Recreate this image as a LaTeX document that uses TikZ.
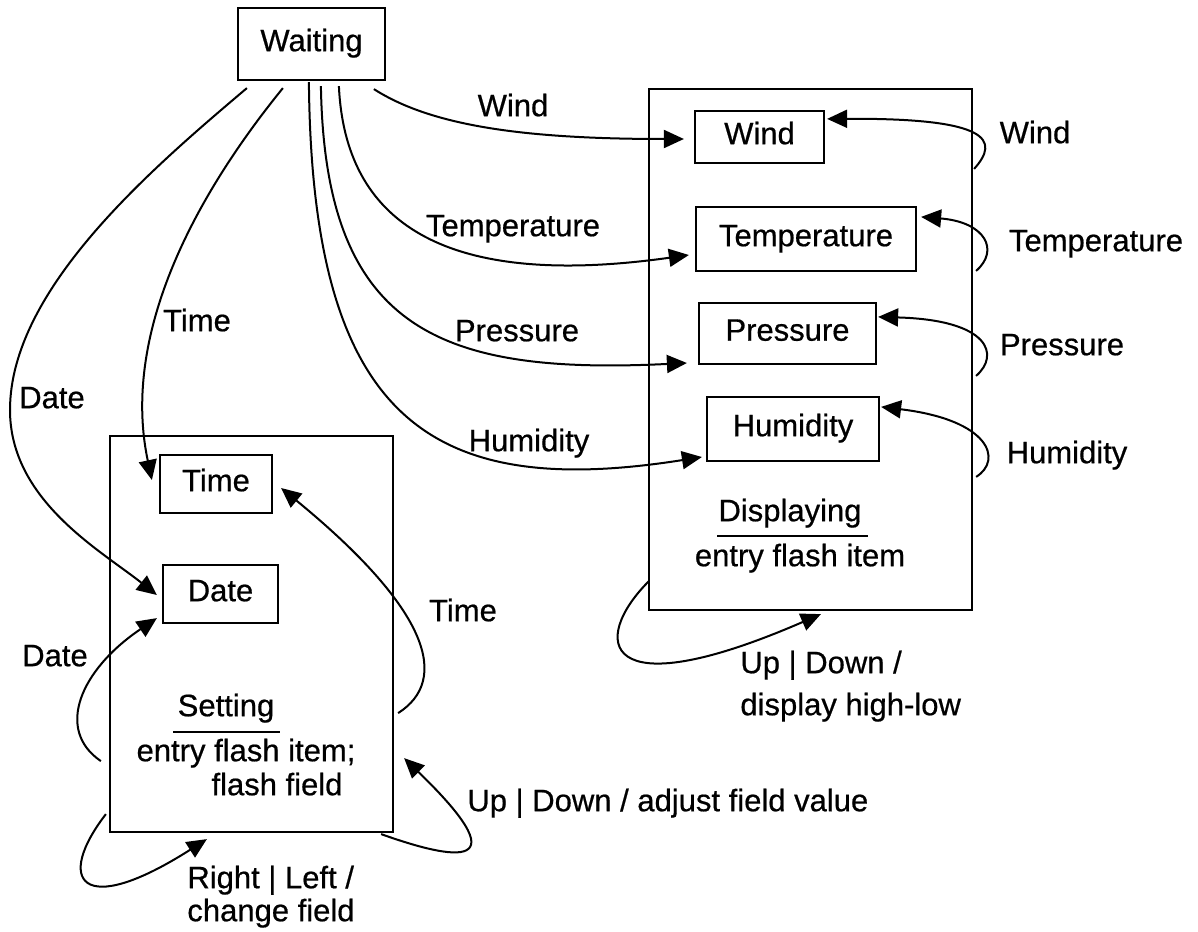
\documentclass[tikz,border=0pt]{standalone}
\usepackage{fontspec}
\setmainfont{Liberation Sans}[FakeBold=0.6]
\usetikzlibrary{arrows.meta,calc}
\begin{document}
\begin{tikzpicture}[x=0.5pt,y=-0.5pt,
  every node/.style={font=\fontsize{15.5}{18}\selectfont, inner sep=0pt,
    text height=0.72em, text depth=0pt},
  box/.style={draw, line width=1.1pt},
  frame/.style={draw, line width=1.1pt},
  conn/.style={line width=1pt, -{Triangle[length=10pt,width=9pt]}},
  rule/.style={line width=1pt},
]
\path[use as bounding box] (0,0) rectangle (1198,931);

% states
\node[box, minimum width=73.5pt, minimum height=36pt] (waiting) at (311.5,44) {Waiting};

\node[frame, minimum width=161.5pt, minimum height=260.5pt] (disp) at (810.5,349.5) {};
\node[box, minimum width=64.5pt, minimum height=26pt] (wind) at (759.5,137) {Wind};
\node[box, minimum width=110pt, minimum height=32pt] (temp) at (806,239) {Temperature};
\node[box, minimum width=88.5pt, minimum height=30.5pt] (press) at (787.5,333.5) {Pressure};
\node[box, minimum width=86pt, minimum height=32pt] (humid) at (793,429) {Humidity};
\node (dispName) at (790,514) {Displaying};
\draw[rule] (717,536) -- (868,536);
\node (dispEntry) at (800,559) {entry flash item};

\node[frame, minimum width=141.5pt, minimum height=198pt] (setting) at (251.5,634) {};
\node[box, minimum width=56pt, minimum height=29pt] (time) at (216,484) {Time};
\node[box, minimum width=57.5pt, minimum height=29pt] (date) at (220.5,594) {Date};
\node (setName) at (226,709) {Setting};
\draw[rule] (173,732) -- (280,732);
\node (setEntry) at (246,754) {entry flash item;};
\node (setFlash) at (277,788) {flash field};

% transition labels
\node (lWind) at (513,109) {Wind};
\node (lTemp) at (513,229) {Temperature};
\node (lPress) at (517,334) {Pressure};
\node (lHum) at (529,444) {Humidity};
\node (lTime) at (197,324) {Time};
\node (lDate) at (52,401) {Date};
\node (rWind) at (1035,136) {Wind};
\node (rTemp) at (1096,244) {Temperature};
\node (rPress) at (1062,348) {Pressure};
\node (rHum) at (1067,456) {Humidity};
\node (lTimeLoop) at (463,614) {Time};
\node (lDateLoop) at (55,659) {Date};
\node[anchor=west] (lAdjust) at (467,804) {Up | Down / adjust field value};
\node[anchor=west] (lRL1) at (187,881) {Right | Left /};
\node[anchor=west] (lRL2) at (187,914) {change field};
\node[anchor=west] (lUD1) at (740,666) {Up | Down /};
\node[anchor=west] (lUD2) at (740,708) {display high-low};

% transitions out of Waiting
\draw[conn] ($(waiting.south west)+(10,7)$) .. controls (150,170) and (10,290) .. (10,410)
  .. controls (10,500) and (100,550) .. ($(date.west)+(-5,1)$);
\draw[conn] ($(waiting.south west)+(46,7)$) .. controls (200,190) and (120,330) .. ($(time.west)+(-7,-4)$);
\draw[conn] ($(waiting.south west)+(72,1)$) .. controls (312,420) and (430,500) .. ($(humid.west)+(-4,28)$);
\draw[conn] ($(waiting.south west)+(84,5)$) .. controls (325,330) and (440,375) .. ($(press.west)+(-11,29.5)$);
\draw[conn] ($(waiting.south west)+(102,5)$) .. controls (345,220) and (440,290) .. ($(temp.west)+(-6,16)$);
\draw[conn] ($(waiting.south west)+(137,8)$) .. controls (430,125) and (520,139) .. ($(wind.west)+(-10,2)$);

% self transitions of Displaying
\draw[conn] ($(disp.north east)+(1,81)$) .. controls (1000,140) and (990,118) .. ($(wind.north east)+(2,9)$);
\draw[conn] ($(disp.north east)+(3,183)$) .. controls (1000,250) and (985,222) .. ($(temp.north east)+(4,11)$);
\draw[conn] ($(disp.north east)+(3,288)$) .. controls (1000,355) and (990,320) .. ($(press.north east)+(1,15)$);
\draw[conn] ($(disp.north east)+(3,389)$) .. controls (1003,460) and (990,420) .. ($(humid.north east)+(1,11)$);
\draw[conn] ($(disp.south west)+(1,-30)$) .. controls (590,640) and (600,710) .. ($(disp.south west)+(173,3)$);

% self transitions of Setting
\draw[conn] ($(setting.south west)+(-8,-72)$) .. controls (55,730) and (80,670) .. ($(date.south west)+(-5,-6)$);
\draw[conn] ($(setting.south east)+(4,-120)$) .. controls (450,680) and (430,610) .. ($(time.east)+(8,4)$);
\draw[conn] ($(setting.south east)+(-13,1)$) .. controls (440,855) and (530,880) .. ($(setting.south east)+(10,-75)$);
\draw[conn] ($(setting.south west)+(-3,-19)$) .. controls (55,880) and (80,920) .. ($(setting.south west)+(98,6)$);
\end{tikzpicture}
\end{document}
